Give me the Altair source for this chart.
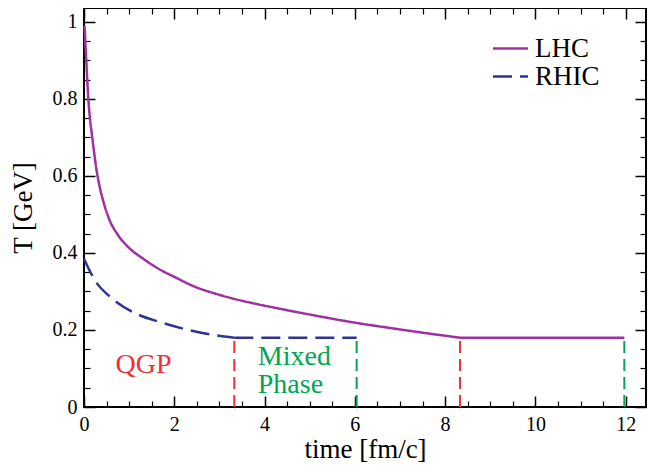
import altair as alt
import pandas as pd

# temperature vs proper time
lhc_t = [0.012, 0.05, 0.096, 0.133, 0.177, 0.22, 0.273, 0.34, 0.43, 0.55, 0.75, 1.0,
         1.3, 1.68, 2.0, 2.44, 2.95, 3.32, 3.84, 4.3, 5.37, 6.0, 6.85, 7.5, 8.33]
lhc_T = [0.99, 0.90, 0.80, 0.748, 0.705, 0.665, 0.619, 0.576, 0.533, 0.490, 0.447, 0.413,
         0.386, 0.357, 0.338, 0.313, 0.293, 0.281, 0.267, 0.256, 0.232, 0.219, 0.204,
         0.193, 0.18]
rhic_t = [0.0, 0.16, 0.30, 0.55, 0.74, 1.18, 1.70, 2.21, 2.81, 3.33]
rhic_T = [0.385, 0.346, 0.319, 0.289, 0.271, 0.241, 0.220, 0.203, 0.188, 0.18]

T_c = 0.18
qgp_end = [3.33, 8.33]      # RHIC, LHC
mixed_end = [6.04, 11.97]   # RHIC, LHC

x_major = [0, 2, 4, 6, 8, 10, 12]
x_minor = [i / 2 for i in range(25) if i % 4]
y_major = [0, 0.2, 0.4, 0.6, 0.8, 1.0]
y_minor = [i / 20 for i in range(21) if i % 4]

qgp_label = {"t": [1.32], "T": [0.0875], "text": ["QGP"]}
mixed_label = {"t": [3.85, 3.85], "T": [0.108, 0.0356], "text": ["Mixed", "Phase"]}

FONT = "Times New Roman, Liberation Serif, serif"
PURPLE = "#a0309f"
BLUE = "#2e3494"
RED = "#ed3237"
GREEN = "#00a651"

rows = [("LHC", "cool", t, T) for t, T in zip(lhc_t, lhc_T)]
rows += [("LHC", "flat", qgp_end[1], T_c), ("LHC", "flat", mixed_end[1], T_c)]
rows += [("RHIC", "cool", t, T) for t, T in zip(rhic_t, rhic_T)]
rows += [("RHIC", "flat", qgp_end[0], T_c), ("RHIC", "flat", mixed_end[0], T_c)]
curves = pd.DataFrame(rows, columns=["series", "seg", "t", "T"])

qgp_rules = pd.DataFrame({"t": qgp_end, "lo": 0.0, "hi": T_c})
mixed_rules = pd.DataFrame({"t": mixed_end, "lo": 0.0, "hi": T_c})

xs = alt.Scale(domain=[0, 12.45], nice=False, zero=False)
ys = alt.Scale(domain=[0, 1.036], nice=False, zero=False)

legend = alt.Legend(
    orient="none", legendX=413, legendY=27, title=None,
    symbolType="M-2,0H2", symbolSize=306, symbolStrokeWidth=2.5,
    labelFontSize=27, labelFont=FONT, labelColor="black", labelOffset=11,
    rowPadding=0,
)

lines = alt.Chart(curves).mark_line(interpolate="monotone", strokeWidth=2.5).encode(
    x=alt.X("t:Q", scale=xs, axis=alt.Axis(
        orient="bottom", values=x_major, ticks=False, tickSize=0, domain=False,
        grid=False, labelPadding=7, labelFontSize=20, labelFont=FONT, labelFlush=False,
        labelColor="black", title="time [fm/c]", titleFont=FONT, titleFontSize=27,
        titleFontWeight="normal", titleColor="black", titlePadding=2)),
    y=alt.Y("T:Q", scale=ys, axis=alt.Axis(
        orient="left", values=y_major, format="~g", ticks=False, tickSize=0,
        domain=False, grid=False, labelPadding=7, labelFontSize=20, labelFont=FONT,
        labelFlush=False, labelColor="black", title="T [GeV]", titleFont=FONT,
        titleFontSize=27, titleFontWeight="normal", titleColor="black",
        titlePadding=15)),
    color=alt.Color("series:N", scale=alt.Scale(domain=["LHC", "RHIC"], range=[PURPLE, BLUE]),
                    legend=legend),
    strokeDash=alt.StrokeDash("series:N", scale=alt.Scale(domain=["LHC", "RHIC"],
                                                           range=[[1, 0], [19, 8]]),
                              legend=legend),
    detail="seg:N",
)


def vrules(df, color):
    return alt.Chart(df).mark_rule(color=color, strokeWidth=2, strokeDash=[12, 6]).encode(
        x=alt.X("t:Q", scale=xs, axis=None),
        y=alt.Y("lo:Q", scale=ys, axis=None),
        y2="hi:Q",
    )


def label(d, color, align):
    return alt.Chart(pd.DataFrame(d)).mark_text(
        font=FONT, fontSize=28, color=color, align=align, baseline="alphabetic"
    ).encode(
        x=alt.X("t:Q", scale=xs, axis=None),
        y=alt.Y("T:Q", scale=ys, axis=None),
        text="text:N",
    )


def tick_layer(orient, values, size, width):
    ax = alt.Axis(orient=orient, values=values, tickSize=size, offset=-size,
                  tickWidth=width, tickColor="black", domain=False, labels=False,
                  grid=False, title=None)
    if orient in ("left", "right"):
        enc = dict(x=alt.X("t:Q", scale=xs, axis=None), y=alt.Y("T:Q", scale=ys, axis=ax))
    else:
        enc = dict(x=alt.X("t:Q", scale=xs, axis=ax), y=alt.Y("T:Q", scale=ys, axis=None))
    return alt.Chart(curves).mark_point(opacity=0).encode(**enc)


ticks = [
    tick_layer("left", y_major, 11, 1.5), tick_layer("left", y_minor, 6, 1.2),
    tick_layer("right", y_major, 11, 1.5), tick_layer("right", y_minor, 6, 1.2),
    tick_layer("bottom", x_major, 11, 1.5), tick_layer("bottom", x_minor, 6, 1.2),
    tick_layer("top", x_major, 11, 1.5), tick_layer("top", x_minor, 6, 1.2),
]

chart = alt.layer(
    vrules(qgp_rules, RED), vrules(mixed_rules, GREEN),
    lines,
    label(qgp_label, RED, "center"), label(mixed_label, GREEN, "left"),
    *ticks,
).resolve_axis(
    x="independent", y="independent"
).properties(
    width=562, height=399,
    autosize=alt.AutoSizeParams(type="none"),
    padding={"left": 76, "top": 0, "right": 1, "bottom": 57},
).configure(
    font=FONT
).configure_axis(
    labelFont=FONT, titleFont=FONT
).configure_view(
    stroke="black", strokeWidth=2
)

chart.save("out.html", embed_options={"renderer": "svg", "actions": False})
